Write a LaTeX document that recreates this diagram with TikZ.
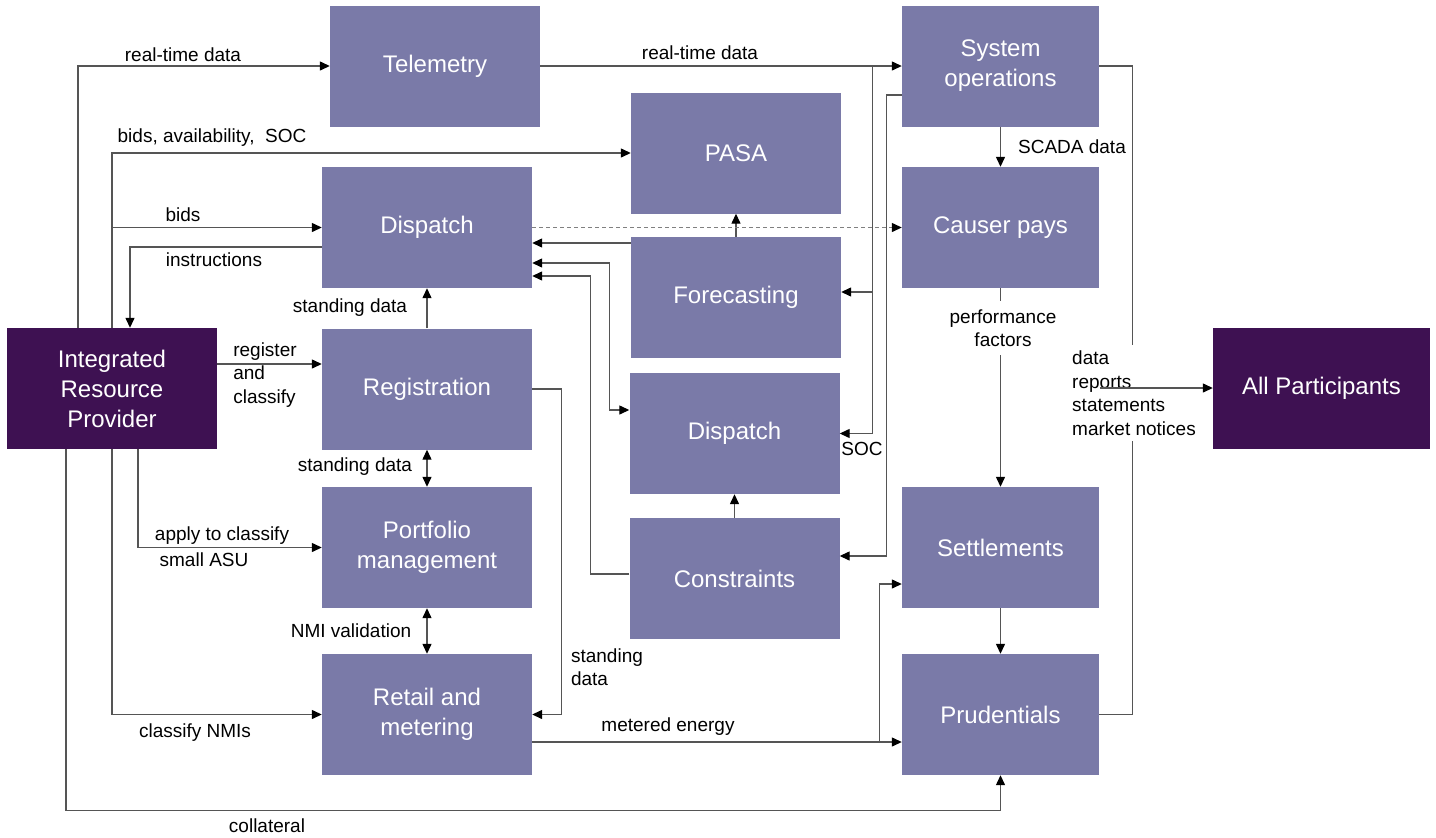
\documentclass[tikz,border=0pt]{standalone}
\usepackage{fontspec}
\setmainfont{Liberation Sans}
\usetikzlibrary{arrows.meta}

\definecolor{boxblue}{RGB}{122,122,168}
\definecolor{darkplum}{RGB}{62,17,82}
\definecolor{linegray}{RGB}{85,85,85}

\tikzset{
  unit/.style={fill=boxblue, text=white, inner sep=0pt, minimum width=210pt,
    minimum height=121pt, align=center, font=\fontsize{24}{30}\selectfont},
  party/.style={unit, fill=darkplum},
  narrow/.style={minimum width=197pt},
  lbl/.style={font=\fontsize{19}{23.5}\selectfont, inner sep=1pt, align=left},
  link/.style={draw=linegray, line width=1.3pt},
  flow/.style={link, -{Triangle[length=10pt,width=9pt,color=black]}},
  twoway/.style={link, {Triangle[length=10pt,width=9pt,color=black]}-{Triangle[length=10pt,width=9pt,color=black]}},
  soft/.style={flow, draw=gray, dash pattern=on 4pt off 3pt}
}

\begin{document}
\begin{tikzpicture}[x=1pt, y=-1pt]
\useasboundingbox (0,0) rectangle (1436,838);

% participants
\node[party] (irp) at (112,388.5) {Integrated\\Resource\\Provider};
\node[party, minimum width=217pt] (allp) at (1321.5,388) {All Participants};

% AEMO functions
\node[unit] (tele) at (435,66) {Telemetry};
\node[unit] (pasa) at (736,153) {PASA};
\node[unit] (dispA) at (427,227.5) {Dispatch};
\node[unit] (forecast) at (736,297.5) {Forecasting};
\node[unit] (regis) at (427,389) {Registration};
\node[unit] (dispB) at (734.5,433.5) {Dispatch};
\node[unit] (portf) at (427,547.5) {Portfolio\\management};
\node[unit] (constr) at (734.5,578.5) {Constraints};
\node[unit] (retail) at (427,714.5) {Retail and\\metering};
\node[unit,narrow] (sysop) at (1000.5,66) {System\\operations};
\node[unit,narrow] (causer) at (1000.5,227.5) {Causer pays};
\node[unit,narrow] (settle) at (1000.5,547.5) {Settlements};
\node[unit,narrow] (prud) at (1000.5,714.5) {Prudentials};

% provider -> functions
\draw[flow] ([xshift=-34pt]irp.north) |- (tele.west);
\draw[flow] (irp.north) |- (pasa.west);
\draw[flow] (irp.north |- dispA.west) -- (dispA.west);
\draw[flow] ([yshift=-19.5pt]dispA.west) -| ([xshift=18pt]irp.north);
\draw[flow] ([yshift=24.5pt]irp.east) coordinate (r0) -- (r0 -| regis.west);
\draw[flow] ([xshift=26pt]irp.south) |- (portf.west);
\draw[flow] (irp.south) |- (retail.west);
\path (prud.south) ++(0,35) coordinate (cb);
\draw[flow] ([xshift=-46pt]irp.south) |- (cb) -- (prud.south);

\node[lbl] (l1) at (183,55) {real-time data};
\node[lbl] (l2) at (212,138) {bids, availability,\ \ SOC};
\node[lbl] (l3) at (183,215) {bids};
\node[lbl] (l4) at (214,260) {instructions};
\node[lbl] (l5) at (265,375) {register\\and\\classify};
\node[lbl] (l6) at (222,536) {apply to classify};
\node[lbl] (l7) at (204,560) {small ASU};
\node[lbl] (l8) at (195,733) {classify NMIs};
\node[lbl] (l9) at (267,826) {collateral};

% registration column
\draw[flow] (regis.north) -- (dispA.south);
\draw[twoway] (regis.south) -- (portf.north);
\draw[twoway] (portf.south) -- (retail.north);
\draw[flow] (regis.east) -- ++(29,0) |- (retail.east);
\draw[flow] ([yshift=-27.5pt]retail.east) coordinate (m0) -- (m0 -| prud.west);
\path (m0 -| prud.west) ++(-22,0) coordinate (mb);
\draw[flow] (mb) |- ([yshift=-36.5pt]settle.west);

\node[lbl] (l10) at (350,308) {standing data};
\node[lbl] (l11) at (355,467) {standing data};
\node[lbl] (l12) at (351,631) {NMI validation};
\node[lbl] (l13) at (607,667) {standing\\data};
\node[lbl] (l14) at (668,727) {metered energy};

% dispatch and forecasting
\draw[flow] ([yshift=4.5pt]constr.west) -- ++(-39,0) |- ([yshift=-48.5pt]dispA.east);
\draw[twoway] ([yshift=-35.5pt]dispA.east) -- ++(77,0) |- ([yshift=23.5pt]dispB.west);
\draw[flow] ([yshift=54.5pt]forecast.west) coordinate (f0) -- (f0 -| dispA.east);
\draw[flow] (forecast.north) -- (pasa.south);
\draw[flow] (constr.north) -- (dispB.south);
\draw[soft] (dispA.east) -- (causer.west);

% telemetry and system operations
\draw[flow] (tele.east) -- (sysop.west);
\path (tele.east -| sysop.west) ++(-29,0) coordinate (t0);
\draw[flow] (t0) |- (dispB.east);
\path ([yshift=5.5pt]forecast.east) coordinate (f1);
\draw[flow] (t0 |- f1) -- (f1);
\draw[flow] ([yshift=-29pt]sysop.west) -- ++(-15,0) |- ([yshift=22.5pt]constr.east);

\node[lbl] (l15) at (700,53) {real-time data};
\node[lbl] (l16) at (862,449) {SOC};

% settlement column
\draw[flow] (sysop.south) -- (causer.north);
\draw[flow] (causer.south) -- (settle.north);
\draw[flow] (settle.south) -- (prud.north);
\draw[link] (sysop.east) -- ++(33,0) |- (prud.east);

\node[lbl] (l17) at (1072,147) {SCADA data};
\node[lbl, fill=white, inner sep=8pt, align=center] (l18) at (1003,328) {performance\\factors};
\node[lbl, fill=white, inner sep=6pt] (l19) at (1134,393) {data\\reports\\statements\\market notices};

% to all participants
\path (allp.west) ++(-113,0) coordinate (a0);
\draw[flow] (a0) -- (allp.west);
\end{tikzpicture}
\end{document}
